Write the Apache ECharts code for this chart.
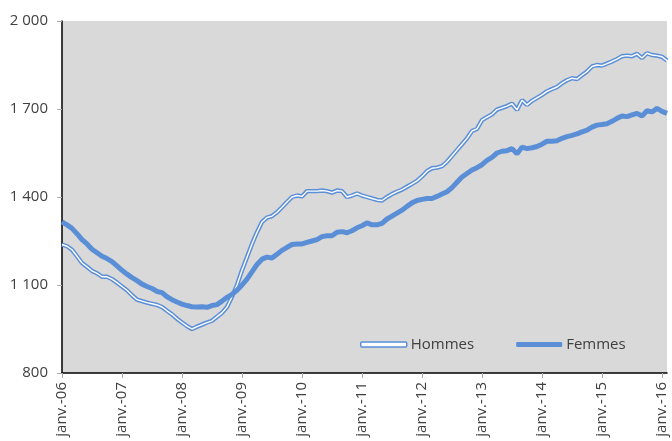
<!DOCTYPE html>
<html>
<head>
<meta charset="utf-8">
<script src="https://cdn.jsdelivr.net/npm/echarts@6/dist/echarts.min.js"></script>
<style>
  html, body { margin: 0; padding: 0; background: #fff; }
  #chart { width: 672px; height: 441px; }
</style>
</head>
<body>
<div id="chart"></div>
<script>
// monthly data, janv. 2006 -> févr. 2016
var years = ['06', '07', '08', '09', '10', '11', '12', '13', '14', '15', '16'];
var monthNames = ['janv.', 'févr.', 'mars', 'avr.', 'mai', 'juin', 'juil.', 'août', 'sept.', 'oct.', 'nov.', 'déc.'];

var hommes = [
  1238, 1232, 1220, 1198, 1175, 1162, 1148, 1140, 1128, 1128, 1120, 1108,
  1095, 1082, 1065, 1050, 1045, 1040, 1036, 1032, 1025, 1012, 1000, 985,
  972, 960, 950, 958, 965, 972, 978, 992, 1005, 1025, 1060, 1100,
  1150, 1195, 1240, 1280, 1315, 1330, 1335, 1348, 1365, 1383, 1400, 1405,
  1402, 1420, 1420, 1420, 1422, 1420, 1415, 1422, 1420, 1400, 1405, 1412,
  1405, 1400, 1395, 1390, 1388, 1400, 1410, 1418, 1425, 1435, 1445, 1455,
  1470, 1488, 1498, 1500, 1505, 1520, 1540, 1560, 1580, 1600, 1625, 1632,
  1662, 1672, 1682, 1698, 1704, 1710, 1718, 1697, 1730, 1714, 1728, 1738,
  1748, 1760, 1768, 1775, 1788, 1798, 1805, 1802, 1815, 1828, 1845, 1850,
  1848, 1855, 1862, 1870, 1880, 1882, 1880, 1888, 1874, 1890, 1884, 1882,
  1878, 1865
];

var femmes = [
  1315, 1305, 1293, 1275, 1255, 1240, 1222, 1210, 1198, 1190, 1180, 1165,
  1150, 1137, 1125, 1115, 1103, 1095, 1088, 1078, 1074, 1060, 1050, 1042,
  1035, 1030, 1026, 1025, 1026, 1024, 1030, 1033, 1045, 1058, 1068, 1082,
  1100, 1120, 1145, 1170, 1188, 1195, 1192, 1205, 1218, 1228, 1238, 1240,
  1240, 1245, 1250, 1255, 1265, 1268, 1268, 1280, 1282, 1278, 1285, 1295,
  1302, 1312, 1305, 1305, 1310, 1325, 1335, 1345, 1355, 1368, 1380, 1388,
  1392, 1395, 1395, 1402, 1410, 1418, 1432, 1450, 1468, 1480, 1492, 1500,
  1510, 1525, 1535, 1550, 1556, 1558, 1565, 1547, 1570, 1565, 1568, 1572,
  1580, 1590, 1590, 1592, 1600, 1606, 1610, 1615, 1622, 1628, 1638, 1645,
  1647, 1650, 1658, 1668, 1676, 1674, 1680, 1685, 1676, 1694, 1690, 1702,
  1692, 1685
];

var yTicks = [800, 1100, 1400, 1700, 2000];

var months = [];
years.forEach(function (y) {
  monthNames.forEach(function (m) {
    months.push(m + '-' + y);
  });
});
months = months.slice(0, hommes.length);

var blue = '#5a8fd7';
var labelColor = '#404040';

var chart = echarts.init(document.getElementById('chart'));
chart.setOption({
  animation: false,
  textStyle: { fontFamily: 'Open Sans' },
  grid: {
    left: 62,
    right: 5,
    top: 21,
    bottom: 68,
    show: true,
    backgroundColor: '#d9d9d9',
    borderWidth: 0
  },
  legend: {
    left: 360,
    top: 337,
    padding: 0,
    itemWidth: 46,
    itemHeight: 5,
    itemGap: 42,
    textStyle: { fontSize: 15, color: labelColor, fontFamily: 'Open Sans', padding: [0, 0, 0, -1] },
    data: [
      { name: 'Hommes', icon: 'roundRect', itemStyle: { color: '#fff', borderColor: blue, borderWidth: 1.5 } },
      { name: 'Femmes', icon: 'roundRect', itemStyle: { color: blue, borderWidth: 0 } }
    ]
  },
  xAxis: {
    type: 'category',
    data: months,
    boundaryGap: false,
    axisLine: { lineStyle: { color: '#000', width: 1.5 } },
    axisTick: { interval: 11, length: 5, lineStyle: { color: '#aaa' } },
    axisLabel: {
      interval: 11,
      rotate: 90,
      margin: 9,
      fontSize: 15,
      color: labelColor
    },
    splitLine: { show: false }
  },
  yAxis: {
    type: 'value',
    min: yTicks[0],
    max: yTicks[yTicks.length - 1],
    interval: 300,
    axisLine: { show: true, lineStyle: { color: '#000', width: 1.5 } },
    axisTick: { show: true, length: 5, lineStyle: { color: '#aaa' } },
    axisLabel: {
      margin: 14,
      fontSize: 15,
      color: labelColor,
      formatter: function (v) {
        return String(v).replace(/\B(?=(\d{3})+(?!\d))/g, ' ');
      }
    },
    splitLine: { show: false }
  },
  series: [
    {
      name: 'Hommes',
      type: 'line',
      data: hommes,
      showSymbol: false,
      symbol: 'none',
      lineStyle: { color: blue, width: 4.4 },
      itemStyle: { color: blue },
      z: 2
    },
    {
      name: 'Hommes-centre',
      type: 'line',
      data: hommes,
      showSymbol: false,
      symbol: 'none',
      lineStyle: { color: '#ffffff', width: 1.4 },
      z: 3,
      silent: true
    },
    {
      name: 'Femmes',
      type: 'line',
      data: femmes,
      showSymbol: false,
      symbol: 'none',
      lineStyle: { color: blue, width: 5 },
      itemStyle: { color: blue },
      z: 4
    }
  ]
});
</script>
</body>
</html>
